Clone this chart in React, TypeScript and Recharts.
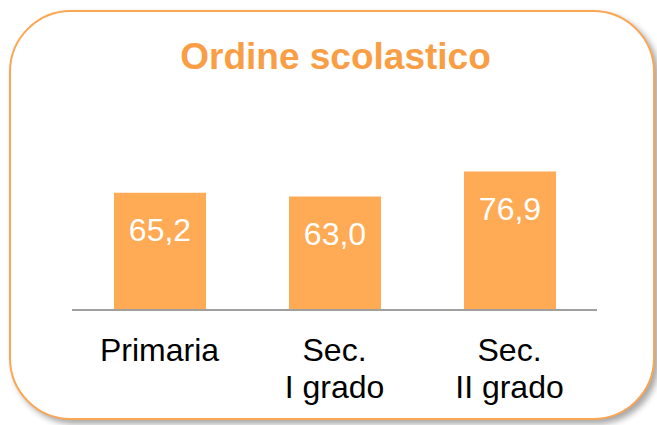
import { Bar, BarChart, LabelList, XAxis, YAxis } from "recharts";

const categories = ["Primaria", "Sec.\nI grado", "Sec.\nII grado"];
const values = [65.2, 63.0, 76.9];
const title = "Ordine scolastico";

const ORANGE = "#FFAA55";
const TITLE_ORANGE = "#F99E45";
const FONT = "Arial, 'Liberation Sans', Helvetica, sans-serif";

const data = categories.map((name, i) => ({ name, value: values[i] }));

function CategoryTick({ x, y, payload }: { x?: number; y?: number; payload?: { value: string } }) {
  const lines = String(payload?.value ?? "").split("\n");
  return (
    <text x={x} y={y} textAnchor="middle" fill="#000" fontSize={32} fontFamily={FONT}>
      {lines.map((line, i) => (
        <tspan key={i} x={x} dy={i === 0 ? 51 : 37}>
          {line}
        </tspan>
      ))}
    </text>
  );
}

function ValueLabel(props: { x?: number; y?: number; width?: number; value?: number }) {
  const { x = 0, y = 0, width = 0, value = 0 } = props;
  return (
    <text x={x + width / 2} y={y + 48} textAnchor="middle" fill="#fff" fontSize={32} fontFamily={FONT}>
      {Number(value).toFixed(1).replace(".", ",")}
    </text>
  );
}

export default function App() {
  return (
    <div style={{ position: "absolute", left: 0, top: 0, width: 657, height: 425, background: "#fff", overflow: "hidden" }}>
      <div
        style={{
          position: "absolute",
          left: 9,
          top: 10,
          width: 642,
          height: 406,
          border: "2px solid #FBA652",
          borderRadius: 62,
          boxShadow: "4px 4px 6px rgba(0,0,0,0.35)",
          background: "#fff",
        }}
      />
      <div
        style={{
          position: "absolute",
          left: 0,
          width: 671,
          top: 35,
          textAlign: "center",
          color: TITLE_ORANGE,
          fontFamily: FONT,
          fontWeight: "bold",
          fontSize: 37,
          lineHeight: "44px",
        }}
      >
        {title}
      </div>
      <div style={{ position: "absolute", left: 0, top: 0 }}>
        <BarChart width={657} height={425} data={data} margin={{ top: 130, right: 60, bottom: 0, left: 72 }}>
          <XAxis
            dataKey="name"
            height={115}
            axisLine={{ stroke: "#A0A0A0", strokeWidth: 2 }}
            tickLine={false}
            tickSize={0}
            tickMargin={0}
            interval={0}
            tick={<CategoryTick />}
          />
          <YAxis hide domain={[0, 100]} />
          <Bar dataKey="value" fill={ORANGE} barSize={92} isAnimationActive={false}>
            <LabelList dataKey="value" content={<ValueLabel />} />
          </Bar>
        </BarChart>
      </div>
    </div>
  );
}
